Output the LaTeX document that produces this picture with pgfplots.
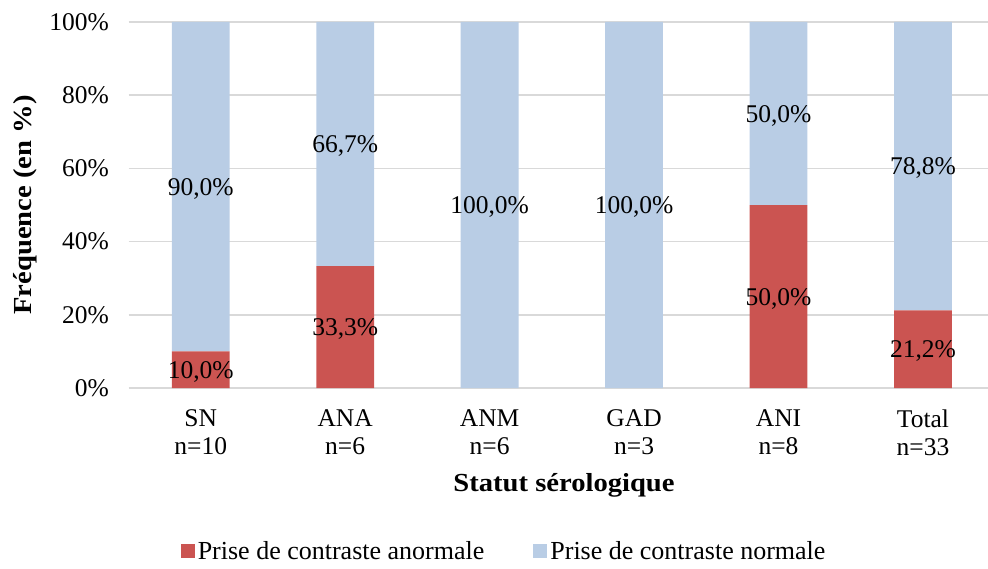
\documentclass[border=0pt]{standalone}
\usepackage{pgfplots}
\pgfplotsset{compat=1.18}
\usepackage{pgfplotstable}
\usepackage{graphicx}
\usepackage{fontspec}
\setmainfont{Liberation Serif}
\definecolor{redbar}{HTML}{CB5451}
\definecolor{bluebar}{HTML}{B9CDE5}
\definecolor{gridc}{HTML}{D9D9D9}
\newcommand{\cf}{\fontsize{25.5}{28}\selectfont}
\newcommand{\lf}{\fontsize{26}{28}\selectfont}
\newcommand{\bfl}{\fontsize{26}{28}\selectfont\bfseries}

\pgfplotstableread{
x red blue
0 10 90
1 33.3 66.7
2 0 100
3 0 100
4 50 50
5 21.2 78.8
}\bars

\pgfplotstableread{
x y lab
0 5 10,0\%
0 55 90,0\%
1 16.65 33,3\%
1 66.65 66,7\%
2 50 100,0\%
3 50 100,0\%
4 25 50,0\%
4 75 50,0\%
5 10.6 21,2\%
5 60.6 78,8\%
}\labels

\begin{document}
\begin{tikzpicture}[x=1pt,y=1pt]
\path[use as bounding box] (0,0) rectangle (988,568);
\pgfplotsset{
  common/.style={
    at={(128.5pt,180pt)}, anchor=south west,
    scale only axis, width=859.5pt, height=366pt,
    xmin=-0.5, xmax=5.45, ymin=0, ymax=100,
  }
}
\begin{axis}[common,
  ybar stacked, bar width=0.4,
  axis lines*=left, axis line style={draw=none},
  major tick length=0pt,
  ymajorgrids, grid style={gridc, line width=1.5pt},
  ytick={0,20,40,60,80,100},
  yticklabels={0\%,20\%,40\%,60\%,80\%,100\%},
  yticklabel style={font=\cf, anchor=east, xshift=-16pt},
  xtick={0,1,2,3,4,5},
  xticklabels={SN\\n=10, ANA\\n=6, ANM\\n=6, GAD\\n=3, ANI\\n=8, Total\\n=33},
  xticklabel style={font=\cf, align=center, anchor=north, yshift=-18pt},
  legend columns=2,
  legend style={at={(0.4376,-0.4454)}, anchor=center, draw=none, fill=none,
    font=\lf, nodes={inner sep=3pt},
    /tikz/every even column/.append style={column sep=46pt}},
]
\addplot[fill=redbar, draw=none,
  legend image code/.code={\fill[redbar] (0pt,-7pt) rectangle (14pt,7pt);}]
  table[x=x, y=red] {\bars};
\addlegendentry{Prise de contraste anormale}
\addplot[fill=bluebar, draw=none,
  legend image code/.code={\fill[bluebar] (0pt,-7pt) rectangle (14pt,7pt);}]
  table[x=x, y=blue] {\bars};
\addlegendentry{Prise de contraste normale}
\end{axis}
\begin{axis}[common, hide axis]
\addplot[only marks, mark=none, nodes near coords, point meta=explicit symbolic,
  nodes near coords style={anchor=center, font=\cf, text=black, yshift=-2pt}]
  table[x=x, y=y, meta=lab] {\labels};
\end{axis}
\node[rotate=90, font=\bfl] at (25,363) {\scalebox{1.1}[1]{Fréquence (en \%)}};
\node[font=\bfl] at (564,83) {\scalebox{1.1}[1]{Statut sérologique}};
\end{tikzpicture}
\end{document}
